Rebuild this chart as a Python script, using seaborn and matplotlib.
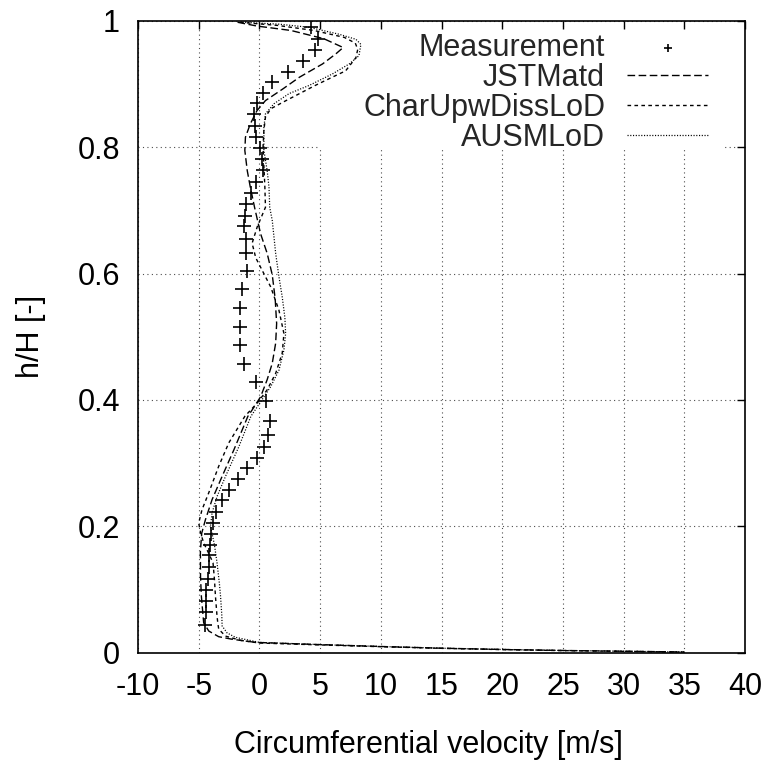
import matplotlib
matplotlib.use("Agg")
import matplotlib.pyplot as plt
import seaborn as sns
import pandas as pd
from matplotlib.patches import Rectangle

# ---------------- data ----------------
meas_x = [4.23, 4.86, 4.56, 3.62, 2.33, 1.01, 0.31, -0.23, -0.45, -0.40,
          -0.31, 0.02, 0.23, 0.31, -0.26, -0.73, -1.14, -1.20, -1.28, -1.09,
          -1.12, -1.06, -1.42, -1.61, -1.61, -1.61, -1.26, -0.31, 0.51, 0.87,
          0.73, 0.40, -0.23, -1.06, -1.78, -2.52, -3.12, -3.57, -3.82, -3.95,
          -4.07, -4.12, -4.17, -4.26, -4.36, -4.40, -4.40, -4.45]
meas_y = [0.990, 0.972, 0.954, 0.937, 0.920, 0.904, 0.886, 0.870, 0.852, 0.833,
          0.816, 0.799, 0.782, 0.764, 0.745, 0.728, 0.710, 0.692, 0.675, 0.655,
          0.632, 0.604, 0.575, 0.545, 0.516, 0.487, 0.457, 0.428, 0.398, 0.366,
          0.344, 0.326, 0.308, 0.292, 0.275, 0.258, 0.241, 0.223, 0.205, 0.188,
          0.170, 0.154, 0.136, 0.117, 0.099, 0.082, 0.064, 0.044]

jst_x = [-1.8, -0.2, 2.6, 5.3, 6.9, 6.3, 5.2, 3.3, 1.9, 0.5, -0.2, -0.75, -1.15,
         -1.2, -1.0, -0.75, -0.4, 0.1, 0.64, 1.06, 1.3, 1.42, 1.34, 1.06, 0.64,
         0.1, -0.6, -0.95, -2.1, -3.07, -3.9, -4.45, -4.75, -4.86, -4.85, -4.78,
         -4.59, -4.17, -3.35, -2.25, -0.31, 5.0, 10.0, 15.0, 20.0, 25.0, 30.0, 35.0]
jst_y = [0.998, 0.992, 0.985, 0.972, 0.958, 0.948, 0.932, 0.911, 0.892, 0.874,
         0.858, 0.837, 0.816, 0.795, 0.763, 0.737, 0.705, 0.663, 0.632, 0.598,
         0.560, 0.521, 0.490, 0.458, 0.432, 0.405, 0.384, 0.374, 0.321, 0.279,
         0.242, 0.210, 0.189, 0.160, 0.120, 0.089, 0.047, 0.034, 0.025, 0.021,
         0.016, 0.0125, 0.0095, 0.0068, 0.0048, 0.0032, 0.0020, 0.0008]

char_x = [-1.6, 1.5, 4.5, 7.0, 7.9, 8.1, 7.95, 7.1, 6.0, 4.6, 3.3, 1.9, 0.93,
          0.5, 0.37, 0.3, 0.37, 0.45, 0.5, -0.18, -0.6, -0.3, 0.5, 0.93, 1.61,
          2.02, 1.88, 1.34, 0.64, -0.18, -1.2, -2.52, -3.35, -4.17, -4.73, -5.0,
          -4.85, -4.6, -4.2, -3.82, -3.7, -3.62, -3.5, -3.43, -3.35, -2.8, -1.5,
          0.0, 5.0, 10.0, 15.0, 20.0, 25.0, 30.0, 35.0]
char_y = [0.998, 0.993, 0.985, 0.974, 0.965, 0.955, 0.942, 0.921, 0.911, 0.898,
          0.885, 0.871, 0.861, 0.848, 0.827, 0.800, 0.770, 0.737, 0.705, 0.674,
          0.648, 0.625, 0.595, 0.579, 0.542, 0.505, 0.474, 0.442, 0.416, 0.395,
          0.374, 0.332, 0.295, 0.253, 0.226, 0.205, 0.190, 0.174, 0.158, 0.142,
          0.115, 0.089, 0.060, 0.047, 0.037, 0.026, 0.019, 0.015, 0.0120, 0.0092,
          0.0066, 0.0046, 0.0030, 0.0018, 0.0006]

ausm_x = [-1.4, 1.61, 4.1, 6.57, 7.95, 8.36, 8.2, 7.4, 6.0, 4.1, 2.44, 1.2, 0.5,
          0.37, 0.37, 0.64, 0.79, 0.85, 1.06, 1.34, 1.61, 1.88, 2.1, 2.16, 2.02,
          1.61, 0.93, 0.1, -0.7, -1.69, -2.79, -3.49, -3.9, -4.03, -3.7, -3.49,
          -3.3, -3.2, -3.1, -3.07, -2.66, -1.97, -0.5, 0.0, 5.0, 10.0, 15.0, 20.0,
          25.0, 30.0, 35.0]
ausm_y = [0.998, 0.995, 0.990, 0.979, 0.971, 0.963, 0.945, 0.932, 0.916, 0.898,
          0.885, 0.869, 0.853, 0.832, 0.795, 0.763, 0.737, 0.705, 0.684, 0.632,
          0.595, 0.563, 0.530, 0.505, 0.479, 0.447, 0.421, 0.397, 0.374, 0.326,
          0.279, 0.247, 0.221, 0.200, 0.170, 0.142, 0.110, 0.089, 0.060, 0.042,
          0.031, 0.024, 0.018, 0.016, 0.0125, 0.0095, 0.0068, 0.0048, 0.0032,
          0.0020, 0.0008]

x_ticks = [-10, -5, 0, 5, 10, 15, 20, 25, 30, 35, 40]
y_ticks = [0, 0.2, 0.4, 0.6, 0.8, 1]
y_tick_labels = ["0", "0.2", "0.4", "0.6", "0.8", "1"]
series_labels = ["Measurement", "JSTMatd", "CharUpwDissLoD", "AUSMLoD"]
x_label = "Circumferential velocity [m/s]"
y_label = "h/H [-]"

# ---------------- style ----------------
sns.set_theme(style="white")
plt.rcParams["font.family"] = ["Liberation Sans", "DejaVu Sans"]
plt.rcParams["axes.unicode_minus"] = False
FS = 22

W, H = 764, 765
fig = plt.figure(figsize=(W / 100, H / 100), dpi=100)
L, R, T, B = 138, 745, 21, 652.5
ax = fig.add_axes([L / W, 1 - B / H, (R - L) / W, (B - T) / H])

meas = pd.DataFrame({"x": meas_x, "y": meas_y})
jst = pd.DataFrame({"x": jst_x, "y": jst_y})
char = pd.DataFrame({"x": char_x, "y": char_y})
ausm = pd.DataFrame({"x": ausm_x, "y": ausm_y})

lw = 1.0
sns.lineplot(data=jst, x="x", y="y", sort=False, estimator=None, ax=ax,
             color="black", linewidth=lw, linestyle=(0, (5.5, 2.5)), label=series_labels[1])
sns.lineplot(data=char, x="x", y="y", sort=False, estimator=None, ax=ax,
             color="black", linewidth=lw, linestyle=(0, (2.6, 2.4)), label=series_labels[2])
sns.lineplot(data=ausm, x="x", y="y", sort=False, estimator=None, ax=ax,
             color="black", linewidth=0.9, linestyle=(0, (0.9, 1.3)), label=series_labels[3])
sns.scatterplot(data=meas, x="x", y="y", ax=ax, marker="+", s=95,
                color="black", linewidth=1.2, label=series_labels[0], zorder=3)

ax.set_xlim(-10, 40)
ax.set_ylim(0, 1)
ax.set_xticks(x_ticks)
ax.set_xticklabels([str(v) for v in x_ticks])
ax.set_yticks(y_ticks)
ax.set_yticklabels(y_tick_labels)

ax.set_axisbelow(True)
ax.grid(True, color="0.3", linestyle=(0, (1, 3)), linewidth=0.8)

ax.tick_params(direction="in", length=5.8, width=1.0, top=True, right=True,
               labelsize=FS, colors="black", pad=14)
ax.tick_params(axis="y", pad=13)
for sp in ax.spines.values():
    sp.set_color("black")
    sp.set_linewidth(1.2)

ax.set_xlabel(x_label, fontsize=FS, color="black")
ax.set_ylabel(y_label, fontsize=FS, color="black")
ax.xaxis.set_label_coords((428 - L) / (R - L), (B - 730) / (B - T))
ax.yaxis.set_label_coords((46 - L) / (R - L), 0.5)

# white key background hiding the grid (gnuplot-style opaque key)
ax.add_patch(Rectangle(((318 - L) / (R - L), (B - 150) / (B - T)),
                       (725 - 318) / (R - L), (150 - 30) / (B - T),
                       transform=ax.transAxes, facecolor="white",
                       edgecolor="none", zorder=0.8))

handles, labels = ax.get_legend_handles_labels()
order = [labels.index(l) for l in series_labels]
leg = ax.legend([handles[i] for i in order], [labels[i] for i in order],
                loc="upper right",
                bbox_to_anchor=((708 - L) / (R - L), (B - 33) / (B - T)),
                frameon=False, fontsize=FS, markerfirst=False, markerscale=0.6,
                handlelength=2.65, handletextpad=0.72, borderpad=0,
                borderaxespad=0, labelspacing=0.0)
for col in leg._legend_handle_box.get_children():
    col.align = "right"

fig.savefig("out.png", dpi=100)
